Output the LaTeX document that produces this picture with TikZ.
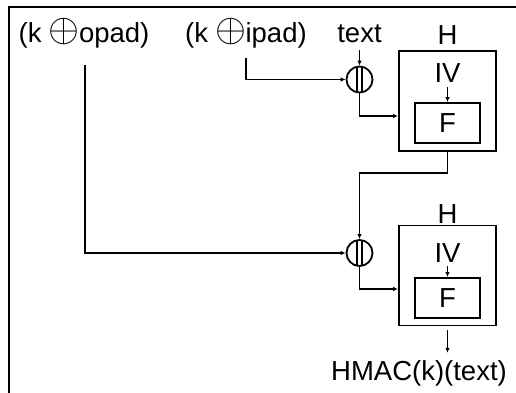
\documentclass[tikz,border=0pt]{standalone}
\usepackage{fontspec}
\usepackage{graphicx}
\setmainfont{Liberation Sans}
\usetikzlibrary{arrows.meta}
% enlarged circled plus used in the key labels
\newcommand\xorsym{\raisebox{1.8pt}{\scalebox{1.6}{$\oplus$}}}
\begin{document}
\begin{tikzpicture}[x=1pt,y=-1pt,
  lbl/.style={inner sep=0pt,anchor=base,font=\fontsize{27.5}{33}\selectfont},
  wire/.style={line width=1.8pt},
  arr/.style={wire,-{Latex[length=5pt,width=4.5pt]}},
  hbox/.style={draw,line width=1.8pt,minimum width=97pt,minimum height=100pt,inner sep=0pt},
  fbox/.style={draw,line width=1.8pt,minimum width=65pt,minimum height=40pt,inner sep=0pt,
    font=\fontsize{27.5}{33}\selectfont},
  cat/.style={draw,circle,line width=1.8pt,minimum size=26pt,inner sep=0pt}]
\useasboundingbox (0,0) rectangle (516,393);

% frame
\draw[line width=2pt] (516,7) -- (9,7) -- (9,393);

% inputs
\node[lbl,anchor=base west] (opad) at (18.5,43) {(k\kern7pt\xorsym\kern-0.5pt opad)};
\node[lbl,anchor=base west] (ipad) at (185,43) {(k\kern7pt\xorsym\kern-0.5pt ipad)};
\node[lbl] (txt) at (359.5,43) {text};
\coordinate (opadout) at (85,65);
\coordinate (ipadout) at (246,58);

% concatenation points
\node[cat] (c1) at (359.5,79.5) {};
\node[cat] (c2) at (359.5,253) {};
\foreach \c in {c1,c2}{
  \draw[wire,shorten <=1.5pt,shorten >=1.5pt] ([xshift=-2.3pt]\c.north) -- ([xshift=-2.3pt]\c.south);
  \draw[wire,shorten <=1.5pt,shorten >=1.5pt] ([xshift=2.3pt]\c.north) -- ([xshift=2.3pt]\c.south);
}

% inner hash
\node[hbox] (H1) at (447.5,101) {};
\node[lbl] (h1) at (447.5,45) {H};
\node[lbl] (iv1) at (447.5,83) {IV};
\node[fbox] (F1) at (447.5,123) {F};

% outer hash
\node[hbox] (H2) at (447.5,275.5) {};
\node[lbl] (h2) at (447.5,223) {H};
\node[lbl] (iv2) at (447.5,262) {IV};
\node[fbox] (F2) at (447.5,298) {F};

\node[lbl] (hmac) at (419,380) {HMAC(k)(text)};

% connectors
\draw[arr] ([yshift=-7pt]txt.south) -- (c1.north);
\draw[arr] (ipadout) |- (c1.west);
\draw[arr] (c1.south) |- ([yshift=-15pt]H1.west);
\draw[arr] ([yshift=-4pt]iv1.base) -- (F1.north);
\draw[arr] (H1.south) -- ++(0,21) -| (c2.north);
\draw[arr] (opadout) |- (c2.west);
\draw[arr] (c2.south) |- ([yshift=-13.5pt]H2.west);
\draw[arr] ([yshift=-4pt]iv2.base) -- (F2.north);
\draw[arr] ([yshift=-4pt]H2.south) -- ([yshift=7pt]hmac.north -| H2.south);
\end{tikzpicture}
\end{document}
